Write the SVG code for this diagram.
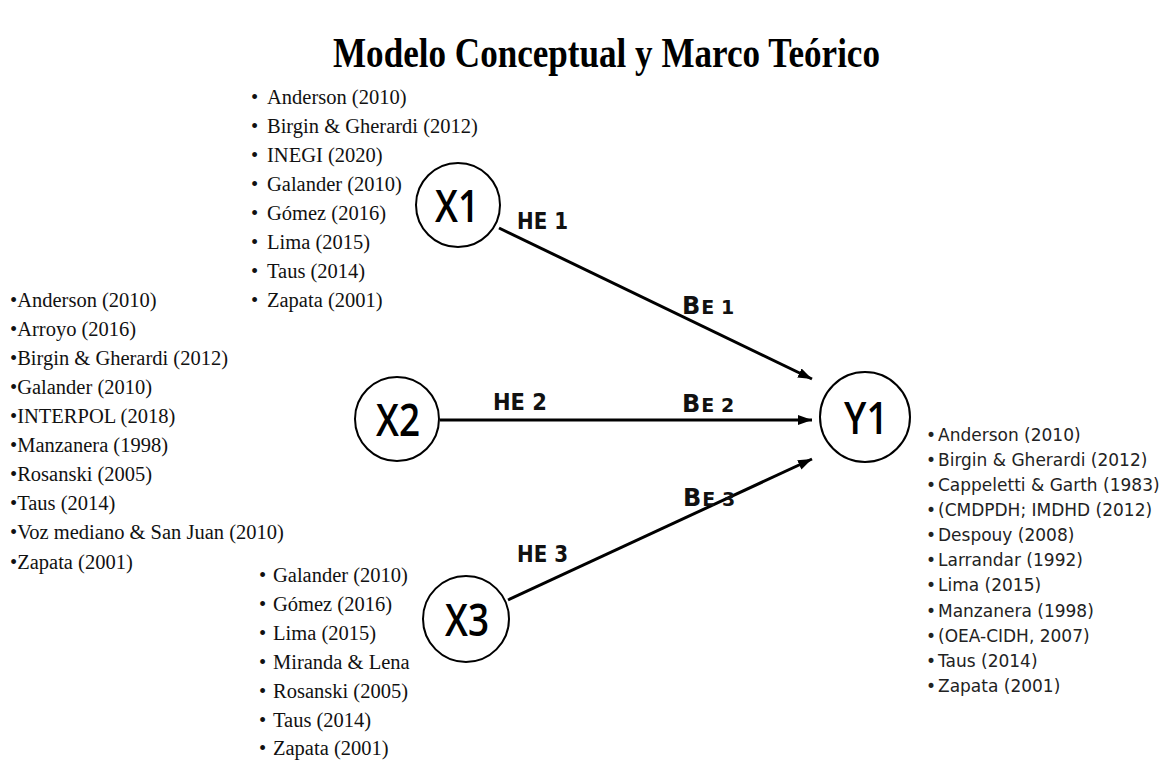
<svg xmlns="http://www.w3.org/2000/svg" width="1165" height="761" viewBox="0 0 1165 761" xml:space="preserve">
  <defs>
    <marker id="arrow" markerUnits="userSpaceOnUse" markerWidth="16" markerHeight="12" refX="14" refY="5" orient="auto">
      <path d="M0,0 L14,5 L0,10 Z" fill="#000"/>
    </marker>
    <style>
      .title { font-family: "Liberation Serif", "Times New Roman", serif; font-weight: bold; font-size: 42px; fill: #000; }
      .node circle { fill: #fff; stroke: #000; stroke-width: 2; }
      .node text { font-family: "Open Sans", "DejaVu Sans", sans-serif; font-weight: 600; font-size: 46px; fill: #000; text-anchor: middle; }
      .edge { stroke: #000; stroke-width: 3; fill: none; marker-end: url(#arrow); }
      .lbl { font-family: "DejaVu Sans", sans-serif; font-weight: bold; font-size: 23px; fill: #111; }
      .beta { font-family: "DejaVu Sans", sans-serif; font-weight: bold; font-size: 19px; fill: #111; }
      .beta .big { font-size: 24px; }
      .ref { font-family: "Liberation Serif", "Times New Roman", serif; font-size: 20.5px; fill: #111; white-space: pre; }
      .refs { font-family: "DejaVu Sans", sans-serif; font-size: 17px; fill: #222; white-space: pre; }
    </style>
  </defs>

  <rect width="1165" height="761" fill="#fff"/>

  <text class="title" x="333" y="67" textLength="547" lengthAdjust="spacingAndGlyphs">Modelo Conceptual y Marco Teórico</text>

  <!-- connectors -->
  <g id="connectors">
    <line class="edge" x1="499" y1="228" x2="812" y2="379"/>
    <line class="edge" x1="440" y1="420" x2="812" y2="420"/>
    <line class="edge" x1="508" y1="600" x2="812" y2="459"/>
    <text class="lbl" x="517" y="229" textLength="51" lengthAdjust="spacingAndGlyphs">HE 1</text>
    <text class="beta" x="682" y="314"><tspan class="big">B</tspan><tspan dx="1">E 1</tspan></text>
    <text class="lbl" x="493" y="410" textLength="54" lengthAdjust="spacingAndGlyphs">HE 2</text>
    <text class="beta" x="682" y="412"><tspan class="big">B</tspan><tspan dx="1">E 2</tspan></text>
    <text class="lbl" x="517" y="562" textLength="51" lengthAdjust="spacingAndGlyphs">HE 3</text>
    <text class="beta" x="683" y="506"><tspan class="big">B</tspan><tspan dx="1">E 3</tspan></text>
  </g>

  <!-- nodes -->
  <g id="X1" class="node">
    <circle cx="458" cy="205" r="42"/>
    <text x="457" y="222" textLength="44" lengthAdjust="spacingAndGlyphs">X1</text>
  </g>
  <g id="X2" class="node">
    <circle cx="397" cy="419" r="42"/>
    <text x="398" y="436" textLength="44" lengthAdjust="spacingAndGlyphs">X2</text>
  </g>
  <g id="X3" class="node">
    <circle cx="466" cy="619" r="43"/>
    <text x="467" y="636" textLength="44" lengthAdjust="spacingAndGlyphs">X3</text>
  </g>
  <g id="Y1" class="node">
    <circle cx="865" cy="417" r="45"/>
    <text x="866" y="434" textLength="44" lengthAdjust="spacingAndGlyphs">Y1</text>
  </g>

  <!-- reference list for X1 -->
  <g id="refs-X1" class="ref">
    <text x="251" y="104">•</text><text x="267" y="104">Anderson  (2010)</text>
    <text x="251" y="133">•</text><text x="267" y="133">Birgin  &amp; Gherardi  (2012)</text>
    <text x="251" y="162">•</text><text x="267" y="162">INEGI (2020)</text>
    <text x="251" y="191">•</text><text x="267" y="191">Galander  (2010)</text>
    <text x="251" y="220">•</text><text x="267" y="220">Gómez  (2016)</text>
    <text x="251" y="249">•</text><text x="267" y="249">Lima  (2015)</text>
    <text x="251" y="278">•</text><text x="267" y="278">Taus (2014)</text>
    <text x="251" y="307">•</text><text x="267" y="307">Zapata (2001)</text>
  </g>

  <!-- reference list for X2 -->
  <g id="refs-X2" class="ref">
    <text x="10" y="307">•Anderson  (2010)</text>
    <text x="10" y="336">•Arroyo (2016)</text>
    <text x="10" y="365">•Birgin  &amp; Gherardi  (2012)</text>
    <text x="10" y="394">•Galander  (2010)</text>
    <text x="10" y="423">•INTERPOL (2018)</text>
    <text x="10" y="452">•Manzanera  (1998)</text>
    <text x="10" y="481">•Rosanski  (2005)</text>
    <text x="10" y="510">•Taus (2014)</text>
    <text x="10" y="539">•Voz mediano  &amp; San Juan (2010)</text>
    <text x="10" y="569">•Zapata (2001)</text>
  </g>

  <!-- reference list for X3 -->
  <g id="refs-X3" class="ref">
    <text x="259" y="582">•</text><text x="273" y="582">Galander  (2010)</text>
    <text x="259" y="611">•</text><text x="273" y="611">Gómez  (2016)</text>
    <text x="259" y="640">•</text><text x="273" y="640">Lima  (2015)</text>
    <text x="259" y="669">•</text><text x="273" y="669">Miranda  &amp; Lena</text>
    <text x="259" y="698">•</text><text x="273" y="698">Rosanski  (2005)</text>
    <text x="259" y="727">•</text><text x="273" y="727">Taus (2014)</text>
    <text x="259" y="755">•</text><text x="273" y="755">Zapata (2001)</text>
  </g>

  <!-- reference list for Y1 -->
  <g id="refs-Y1" class="refs">
    <text x="926" y="441">•</text><text x="938" y="441">Anderson (2010)</text>
    <text x="926" y="466">•</text><text x="938" y="466">Birgin &amp; Gherardi (2012)</text>
    <text x="926" y="491">•</text><text x="938" y="491">Cappeletti &amp; Garth (1983)</text>
    <text x="926" y="516">•</text><text x="938" y="516">(CMDPDH; IMDHD (2012)</text>
    <text x="926" y="541">•</text><text x="938" y="541">Despouy (2008)</text>
    <text x="926" y="566">•</text><text x="938" y="566">Larrandar (1992)</text>
    <text x="926" y="591">•</text><text x="938" y="591">Lima (2015)</text>
    <text x="926" y="617">•</text><text x="938" y="617">Manzanera (1998)</text>
    <text x="926" y="642">•</text><text x="938" y="642">(OEA-CIDH, 2007)</text>
    <text x="926" y="667">•</text><text x="938" y="667">Taus (2014)</text>
    <text x="926" y="692">•</text><text x="938" y="692">Zapata (2001)</text>
  </g>
</svg>
